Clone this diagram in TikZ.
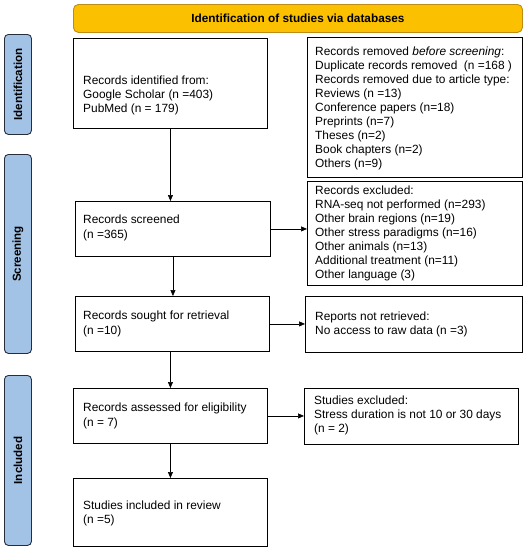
\documentclass[tikz,border=0pt]{standalone}
\usepackage{fontspec}
\setmainfont{Liberation Sans}
\usetikzlibrary{arrows.meta}
\definecolor{bannerfill}{RGB}{251,192,0}
\definecolor{bannerdraw}{RGB}{190,140,20}
\definecolor{sidefill}{RGB}{163,195,230}
\definecolor{sidedraw}{RGB}{40,45,60}
\tikzset{
  box/.style={draw=black, line width=0.9pt, inner sep=0pt, anchor=north west},
  txt/.style={font=\fontsize{11.9}{14.1}\selectfont, align=left, inner sep=0pt, anchor=west},
  side/.style={draw=sidedraw, fill=sidefill, line width=0.9pt, rounded corners=4pt, inner sep=0pt, anchor=north west},
  sidetxt/.style={font=\bfseries\fontsize{11.6}{13}\selectfont, rotate=90},
  arr/.style={-{Triangle[length=6pt,width=5pt]}, line width=0.6pt, black}
}
\begin{document}
\begin{tikzpicture}[x=1pt,y=-1pt]
\useasboundingbox (0,0) rectangle (527,550);
% banner
\node[draw=bannerdraw, fill=bannerfill, line width=0.9pt, rounded corners=5pt, minimum width=449pt, minimum height=28pt, inner sep=0pt, anchor=north west,
  font=\bfseries\fontsize{11.8}{13}\selectfont] (banner) at (73,4) {Identification of studies via databases};
% side labels
\node[side, minimum width=27pt, minimum height=100pt] (sid) at (4,34) {};
\node[sidetxt] (sidt) at (sid.center) {Identification};
\node[side, minimum width=27pt, minimum height=199pt] (ssc) at (4,154) {};
\node[sidetxt] (ssct) at (ssc.center) {Screening};
\node[side, minimum width=27pt, minimum height=170pt] (sin) at (4,375) {};
\node[sidetxt] (sint) at (sin.center) {Included};
% left column boxes
\node[box, minimum width=194pt, minimum height=90pt] (b1) at (73,38) {};
\node[txt] (b1t) at ([xshift=10pt,yshift=-12pt]b1.west) {Records identified from:\\Google Scholar (n =403)\\PubMed (n = 179)};
\node[box, minimum width=195pt, minimum height=55pt] (b2) at (75,201) {};
\node[txt] (b2t) at ([xshift=8pt,yshift=1pt]b2.west) {Records screened\\(n =365)};
\node[box, minimum width=194pt, minimum height=55pt] (b3) at (75,296) {};
\node[txt] (b3t) at ([xshift=8pt]b3.west) {Records sought for retrieval\\(n =10)};
\node[box, minimum width=194pt, minimum height=55pt] (b4) at (73,388) {};
\node[txt] (b4t) at ([xshift=10pt]b4.west) {Records assessed for eligibility\\(n = 7)};
\node[box, minimum width=194pt, minimum height=68pt] (b5) at (73,478) {};
\node[txt] (b5t) at ([xshift=10pt,yshift=-1pt]b5.west) {Studies included in review\\(n =5)};
% right column boxes
\node[box, minimum width=215pt, minimum height=140pt] (r1) at (307,37) {};
\node[txt] (r1t) at ([xshift=8pt,yshift=-1pt]r1.west) {Records removed \emph{before screening}:\\Duplicate records removed~ (n =168 )\\Records removed due to article type:\\Reviews (n =13)\\Conference papers (n=18)\\Preprints (n=7)\\Theses (n=2)\\Book chapters (n=2)\\Others (n=9)};
\node[box, minimum width=215pt, minimum height=104pt] (r2) at (307,181) {};
\node[txt] (r2t) at ([xshift=8pt]r2.west) {Records excluded:\\RNA-seq not performed (n=293)\\Other brain regions (n=19)\\Other stress paradigms (n=16)\\Other animals (n=13)\\Additional treatment (n=11)\\Other language (3)};
\node[box, minimum width=217pt, minimum height=56pt] (r3) at (305,296) {};
\node[txt] (r3t) at ([xshift=10pt]r3.west) {Reports not retrieved:\\No access to raw data (n =3)};
\node[box, minimum width=214pt, minimum height=56pt] (r4) at (304,388) {};
\node[txt] (r4t) at ([xshift=10pt,yshift=1pt]r4.west) {Studies excluded:\\Stress duration is not 10 or 30 days\\(n = 2)};
% arrows
\draw[arr] (b1.south) -- (b1.south |- b2.north);
\draw[arr] (b2.south) -- (b2.south |- b3.north);
\draw[arr] ([xshift=-2pt]b3.south) -- ([xshift=-2pt]b3.south |- b4.north);
\draw[arr] (b4.south) -- (b4.south |- b5.north);
\draw[arr] (b2.east) -- (b2.east -| r2.west);
\draw[arr] (b3.east) -- (b3.east -| r3.west);
\draw[arr] (b4.east) -- (b4.east -| r4.west);
\end{tikzpicture}
\end{document}
